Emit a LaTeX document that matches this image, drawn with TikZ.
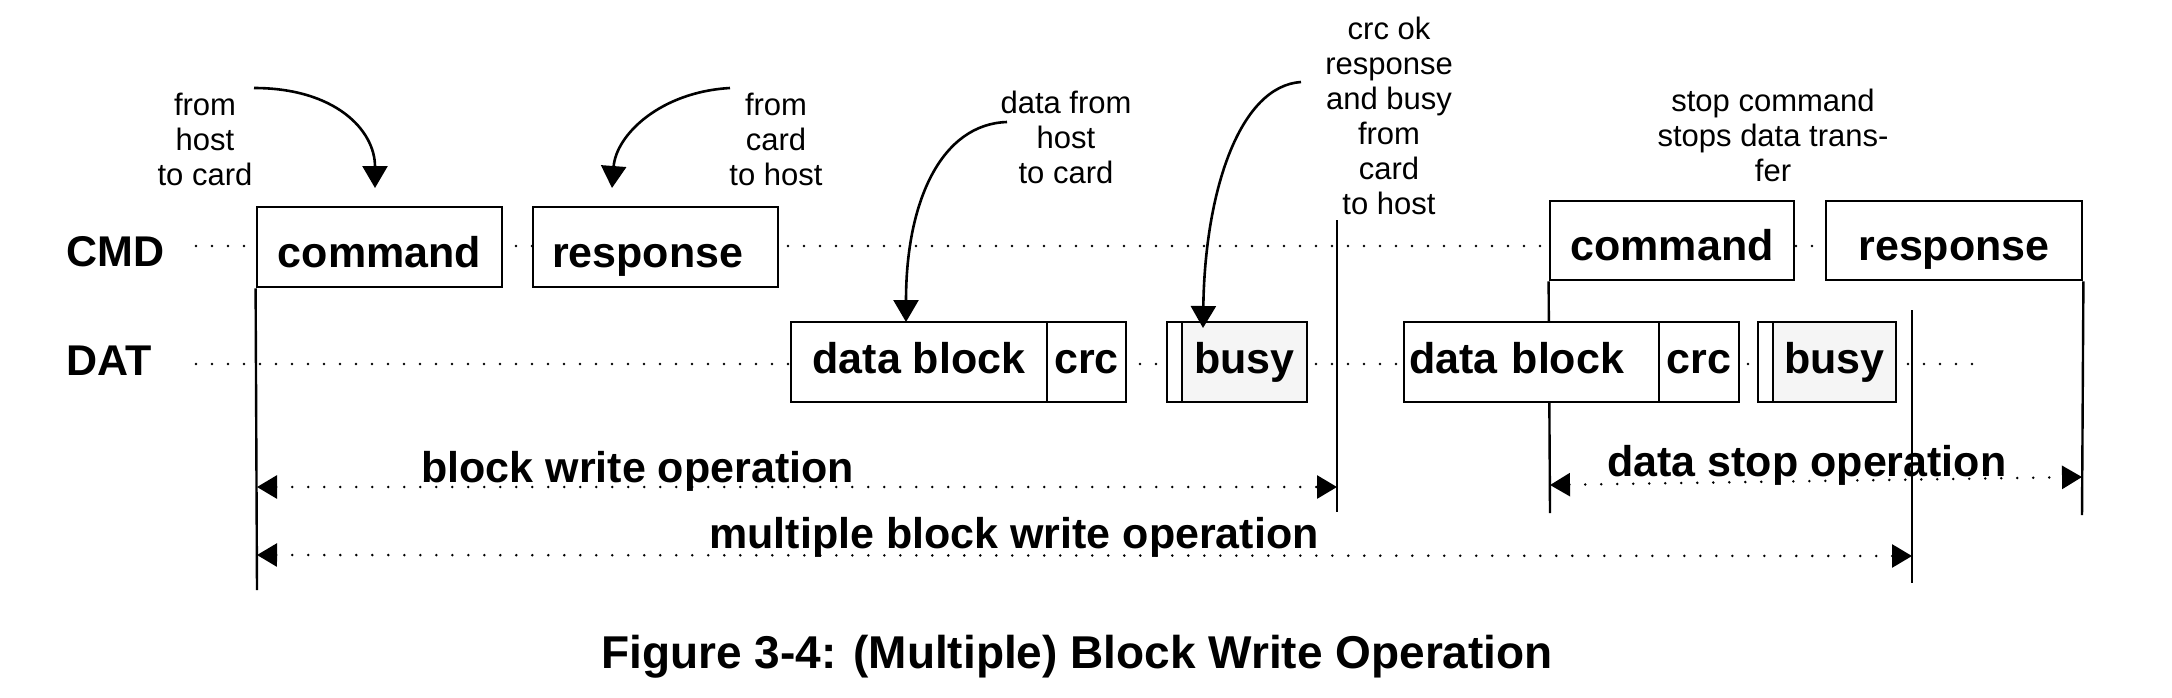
\documentclass[tikz,border=0pt]{standalone}
\usepackage{fontspec}
\setmainfont{Liberation Sans}
\usetikzlibrary{arrows.meta}
\definecolor{busygray}{gray}{0.96}
\pgfdeclarelayer{background}
\pgfsetlayers{background,main}
\begin{document}
\begin{tikzpicture}[x=0.5pt,y=-0.5pt,
  boxbase/.style={draw, line width=1.4pt, fill=white, inner sep=0pt,
    font=\bfseries\fontsize{21.5}{26}\selectfont, minimum height=40pt},
  cmdbox/.style={boxbase, text height=22pt, text depth=2pt},
  datbox/.style={boxbase, text height=12pt, text depth=1pt},
  busybox/.style={datbox, fill=busygray},
  sigtext/.style={font=\bfseries\fontsize{21.5}{26}\selectfont, inner sep=0pt},
  note/.style={font=\fontsize{15.5}{17.5}\selectfont, align=center, inner sep=0pt},
  dots/.style={line width=1.4pt, dash pattern=on 0pt off 8pt, line cap=round},
  callout/.style={line width=1.3pt, -{Triangle[length=11pt,width=12.5pt]}},
  span/.style={dots, {Triangle[length=10pt,width=11.5pt]}-{Triangle[length=10pt,width=11.5pt]}},
  vline/.style={line width=1.2pt},
]
\useasboundingbox (0,0) rectangle (2172,697);

% signal labels
\node[sigtext, anchor=base west] (cmdlbl) at (66,266) {CMD};
\node[sigtext, anchor=base west] (datlbl) at (66,375) {DAT};

% boxes
\node[cmdbox, minimum width=122.5pt] (cmdA) at (379.5,247) {command};
\node[cmdbox, text width=103.5pt, align=left, inner xsep=9.5pt] (respA) at (655.5,247) {response};
\node[datbox, minimum width=128pt] (dataA) at (919,362) {data block};
\node[datbox, minimum width=39.5pt] (crcA) at (1086.5,362) {crc};
\node[datbox, minimum width=7.5pt] (smallA) at (1174.5,362) {};
\node[busybox, minimum width=62.5pt] (busyA) at (1244.5,362) {busy};
\node[cmdbox, minimum width=122pt, minimum height=39.5pt] (cmdB) at (1672,240.5) {command};
\node[cmdbox, minimum width=128pt, minimum height=39.5pt] (respB) at (1954,240.5) {response};
\node[datbox, text width=122.5pt, align=left, inner xsep=2.5pt] (dataB) at (1531.5,362) {data block};
\node[datbox, minimum width=40pt] (crcB) at (1699,362) {crc};
\node[datbox, minimum width=7.5pt] (smallB) at (1765.5,362) {};
\node[busybox, minimum width=61.5pt] (busyB) at (1834.5,362) {busy};

% dotted signal lines and vertical markers (behind the boxes)
\coordinate (cmdS) at (196,246);
\coordinate (cmdE) at (1826,246);
\coordinate (datS) at (196,364);
\coordinate (datE) at (1986,364);
\coordinate (L1b) at (257,590);
\coordinate (L2t) at (1337,220);
\coordinate (L2b) at (1337,512);
\coordinate (L3b) at (1550,513);
\coordinate (L4t) at (1912,310);
\coordinate (L4b) at (1912,583);
\coordinate (L5b) at (2082,515);
\begin{pgfonlayer}{background}
\draw[dots] (cmdS) -- (cmdE);
\draw[dots] (datS) -- (datE);
\draw[vline] (cmdA.south west) -- (L1b);
\draw[vline] (L2t) -- (L2b);
\draw[vline] (cmdB.south west) -- (L3b);
\draw[vline] (L4t) -- (L4b);
\draw[vline] (respB.south east) -- (L5b);
\end{pgfonlayer}

% span arrows
\coordinate (bwL) at (257,487);
\coordinate (bwR) at (1337,487);
\coordinate (mbL) at (257,555);
\coordinate (mbR) at (1912,556);
\coordinate (dsL) at (1550,485);
\coordinate (dsR) at (2082,477);
\draw[span] (bwL) -- (bwR);
\draw[span] (mbL) -- (mbR);
\draw[span] (dsL) -- (dsR);
\node[sigtext, anchor=base west] (bwlbl) at (421,482) {block write operation};
\node[sigtext, anchor=base west] (mblbl) at (709,548) {multiple block write operation};
\node[sigtext, anchor=base west] (dslbl) at (1607,476) {data stop operation};

% callout notes
\node[note] (n1) at (205,139) {from\\host\\to card};
\node[note] (n2) at (776,139) {from\\card\\to host};
\node[note] (n3) at (1066,137) {data from\\host\\to card};
\node[note] (n4) at (1389,116) {crc ok\\response\\and busy\\from\\card\\to host};
\node[note] (n5) at (1773,135) {stop command\\stops data trans-\\fer};

% callout arrows
\coordinate (a1s) at (254,88);
\coordinate (a1e) at (375,188);
\coordinate (a2s) at (730,88);
\coordinate (a2e) at (612,188);
\coordinate (a3s) at (1007,122);
\coordinate (a3e) at (906,322);
\coordinate (a4s) at (1301,82);
\coordinate (a4e) at (1203,328);
\draw[callout] (a1s) .. controls (335,88) and (375,130) .. (a1e);
\draw[callout] (a2s) .. controls (660,92) and (616,135) .. (a2e);
\draw[callout] (a3s) .. controls (942,124) and (906,200) .. (a3e);
\draw[callout] (a4s) .. controls (1240,86) and (1205,190) .. (a4e);

% caption
\node[font=\bfseries\fontsize{23}{28}\selectfont, anchor=base, inner sep=0pt] (cap) at (1077,668) {Figure 3-4: (Multiple) Block Write Operation};
\end{tikzpicture}
\end{document}
